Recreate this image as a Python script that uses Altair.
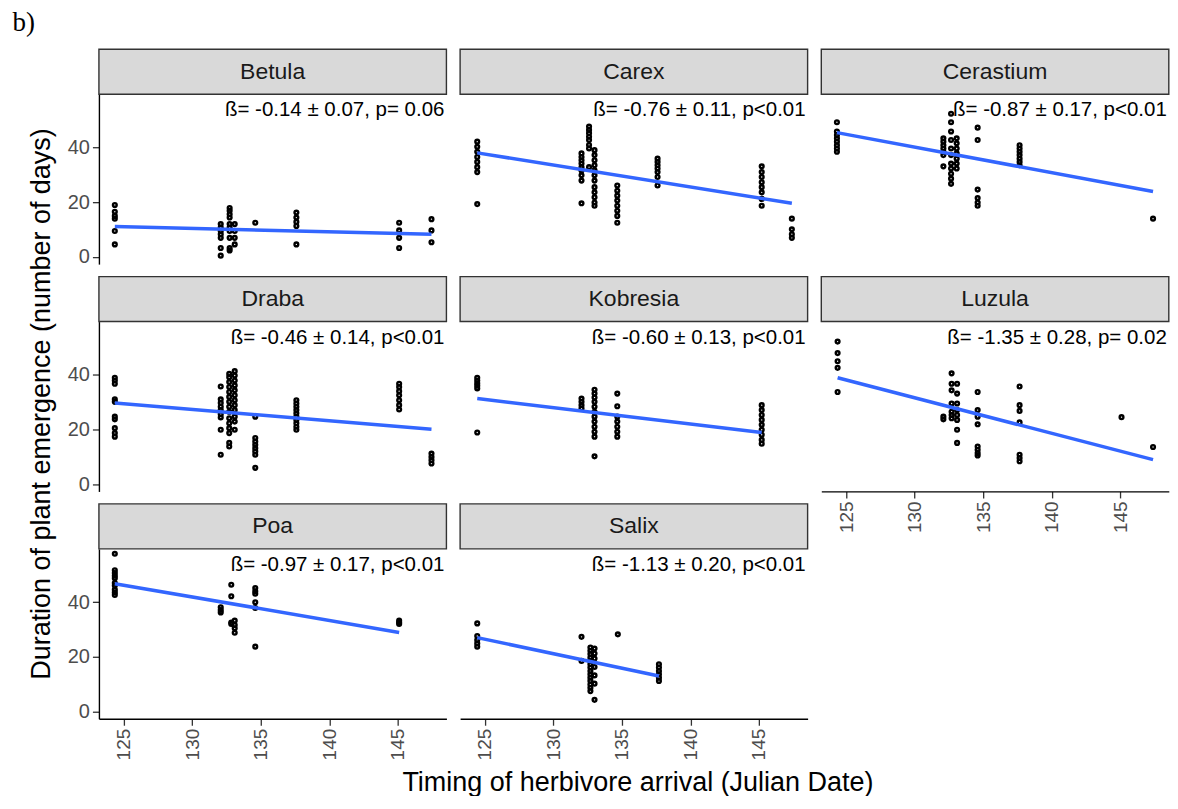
import altair as alt
import pandas as pd

species = ["Betula", "Carex", "Cerastium", "Draba", "Kobresia", "Luzula", "Poa", "Salix"]
labels = [
    "ß= -0.14 ± 0.07, p= 0.06",
    "ß= -0.76 ± 0.11, p<0.01",
    "ß= -0.87 ± 0.17, p<0.01",
    "ß= -0.46 ± 0.14, p<0.01",
    "ß= -0.60 ± 0.13, p<0.01",
    "ß= -1.35 ± 0.28, p= 0.02",
    "ß= -0.97 ± 0.17, p<0.01",
    "ß= -1.13 ± 0.20, p<0.01",
]

betula_x = [124.35, 124.35, 124.35, 124.35, 124.35, 124.35,
            132.08, 132.08, 132.08, 132.08, 132.08, 132.08, 132.08,
            132.73, 132.73, 132.73, 132.73, 132.73, 132.73, 132.73, 132.73, 132.73, 132.73,
            133.1, 133.1, 133.1, 133.1,
            134.6,
            137.6, 137.6, 137.6, 137.6, 137.6,
            145.1, 145.1, 145.1, 145.1,
            147.46, 147.46, 147.46]
betula_y = [19, 16.5, 15, 14, 9.5, 4.6,
            12, 10.7, 9.5, 8.3, 7, 3.3, 0.5,
            17.9, 16.9, 15.6, 14.4, 12, 10.7, 9.5, 7, 3.3, 2.4,
            12, 9.5, 7, 4.6,
            12.5,
            16.2, 14.4, 12.8, 11.3, 4.6,
            12.5, 9.7, 7, 3.3,
            13.8, 9.7, 5.4]

carex_x = [124.44, 124.44, 124.44, 124.44, 124.44, 124.44, 124.44, 124.44,
           132.05, 132.05, 132.05, 132.05, 132.05, 132.05, 132.05, 132.05, 132.05,
           132.6, 132.6, 132.6, 132.6, 132.6, 132.6, 132.6, 132.6,
           133.0, 133.0, 133.0, 133.0, 133.0, 133.0, 133.0, 133.0, 133.0, 133.0, 133.0, 133.0,
           134.66, 134.66, 134.66, 134.66, 134.66, 134.66, 134.66, 134.66,
           137.6, 137.6, 137.6, 137.6, 137.6, 137.6, 137.6,
           145.2, 145.2, 145.2, 145.2, 145.2, 145.2, 145.2, 145.2,
           147.4, 147.4, 147.4, 147.4]
carex_y = [42.1, 40.2, 38.4, 36.5, 34.7, 32.8, 31, 19.3,
           37.8, 36.5, 35.3, 34.1, 32.8, 31.6, 29.8, 27.9, 19.6,
           47.6, 46.4, 45.2, 43.9, 42.7, 40.9, 39.6, 32.8,
           39, 37.2, 35.3, 33.5, 31.6, 29.8, 27.9, 25.5, 23.6, 21.8, 19.9, 18.7,
           26.1, 24.2, 22.4, 20.6, 18.7, 16.9, 15, 12.5,
           35.9, 34.7, 33.5, 32.3, 31, 29.2, 26.1,
           33.1, 31, 29.2, 27.3, 25.5, 23.6, 21.2, 18.7,
           14, 10.1, 8.3, 7]

cerastium_x = [124.33, 124.33, 124.33, 124.33, 124.33, 124.33, 124.33, 124.33,
               132.1, 132.1, 132.1, 132.1, 132.1, 132.1, 132.1,
               132.66, 132.66, 132.66, 132.66, 132.66, 132.66, 132.66, 132.66, 132.66, 132.66, 132.66,
               133.07, 133.07, 133.07, 133.07, 133.07, 133.07, 133.07,
               134.6, 134.6, 134.6, 134.6, 134.6, 134.6,
               137.66, 137.66, 137.66, 137.66, 137.66, 137.66, 137.66,
               147.4]
cerastium_y = [49.2, 45.8, 44.5, 43.3, 42.1, 40.8, 39.6, 38.4,
               43.3, 42.1, 40.8, 39.6, 38.4, 37.2, 33.1,
               52.3, 49.2, 45.8, 42.7, 39.6, 37.2, 34.1, 32.3, 30.4, 28.6, 26.7,
               43.3, 41.5, 39.6, 37.8, 35.9, 34.1, 32.3,
               47.2, 42.7, 24.6, 21.5, 19.9, 18.7,
               40.8, 39.6, 38.4, 37.2, 35.9, 34.7, 33.5,
               14.0]

draba_x = [124.35, 124.35, 124.35, 124.35, 124.35, 124.35, 124.35, 124.35, 124.35, 124.35,
           132.08, 132.08, 132.08, 132.08, 132.08, 132.08, 132.08, 132.08, 132.08,
           132.7, 132.7, 132.7, 132.7, 132.7, 132.7, 132.7, 132.7, 132.7, 132.7, 132.7, 132.7, 132.7, 132.7, 132.7,
           133.1, 133.1, 133.1, 133.1, 133.1, 133.1, 133.1, 133.1, 133.1, 133.1, 133.1, 133.1,
           134.6, 134.6, 134.6, 134.6, 134.6, 134.6, 134.6, 134.6,
           137.6, 137.6, 137.6, 137.6, 137.6, 137.6, 137.6, 137.6, 137.6, 137.6,
           145.1, 145.1, 145.1, 145.1, 145.1, 145.1, 145.1,
           147.46, 147.46, 147.46, 147.46]
draba_y = [38.9, 37.9, 36.7, 31, 30.1, 24.7, 23.7, 20.5, 18.7, 17.4,
           35.7, 31, 29.7, 28.3, 27.1, 25.6, 24.4, 19.9, 10.8,
           40.3, 39.1, 37.3, 35.5, 33.7, 31.9, 30.1, 28.3, 26.5, 24.1, 22.3, 20.5, 18.7, 15.1, 13.8,
           41.3, 39.7, 37.9, 36.1, 34.3, 32.5, 30.7, 28.9, 27.1, 24.7, 22.9, 19.9,
           24.7, 16.9, 15.6, 14.4, 13.2, 12, 10.8, 6,
           30.7, 29.5, 28.3, 27.1, 25.9, 24.7, 23.5, 22.3, 21, 19.9,
           36.7, 35.5, 34, 32.5, 30.7, 28.9, 27.3,
           11.2, 10, 8.8, 7.6]

kobresia_x = [124.44, 124.44, 124.44, 124.44, 124.44, 124.44,
              132.05, 132.05, 132.05, 132.05,
              133.0, 133.0, 133.0, 133.0, 133.0, 133.0, 133.0, 133.0, 133.0, 133.0, 133.0, 133.0,
              134.66, 134.66, 134.66, 134.66, 134.66, 134.66, 134.66,
              145.2, 145.2, 145.2, 145.2, 145.2, 145.2, 145.2, 145.2, 145.2]
kobresia_y = [38.9, 37.9, 36.9, 36, 35, 18.9,
              31.3, 30.1, 28.9, 27.7,
              34.5, 33.1, 31.7, 30.1, 28.3, 26.5, 24.7, 22.9, 21, 19.2, 17.4, 10.2,
              33.1, 28.5, 24.7, 22.9, 21, 19.2, 17.4,
              28.9, 27.1, 25.3, 23.5, 21.7, 19.9, 18.1, 16.2, 14.8]

luzula_x = [124.38, 124.38, 124.38, 124.38, 124.38,
            132.1, 132.1,
            132.7, 132.7, 132.7, 132.7, 132.7, 132.7, 132.7,
            133.1, 133.1, 133.1, 133.1, 133.1, 133.1, 133.1, 133.1,
            134.6, 134.6, 134.6, 134.6, 134.6, 134.6, 134.6, 134.6,
            137.66, 137.66, 137.66, 137.66, 137.66, 137.66, 137.66,
            145.1,
            147.4]
luzula_y = [52.1, 47.9, 44.9, 42.5, 33.7,
            24.7, 23.7,
            40.5, 36.7, 34.3, 29.5, 26.5, 25.3, 24.1,
            36.7, 33.1, 29.5, 27.1, 25.3, 23.5, 19.9, 15.1,
            33.7, 27.1, 24.7, 21.9, 13.8, 12.6, 11.4, 10.5,
            35.7, 28.9, 26.8, 22.6, 10.8, 9.6, 8.4,
            24.5,
            13.6]

poa_x = [124.35, 124.35, 124.35, 124.35, 124.35, 124.35, 124.35, 124.35, 124.35, 124.35,
         132.08, 132.08, 132.08,
         132.85, 132.85, 132.85, 132.85,
         133.1, 133.1, 133.1, 133.1,
         134.6, 134.6, 134.6, 134.6, 134.6, 134.6,
         145.1, 145.1, 145.1]
poa_y = [57.6, 51.6, 50.6, 49.6, 48.7, 46.9, 46, 44.5, 43.5, 42.6,
         38.1, 37.1, 36.2,
         46.3, 42.1, 32.5, 32,
         33.2, 31.6, 30.4, 28.8,
         45.1, 43.9, 43, 39.9, 37.8, 23.7,
         33.2, 32.5, 32]

salix_x = [124.44, 124.44, 124.44, 124.44, 124.44,
           132.05, 132.05,
           132.7, 132.7, 132.7, 132.7, 132.7, 132.7, 132.7, 132.7, 132.7, 132.7, 132.7, 132.7, 132.7, 132.7,
           133.0, 133.0, 133.0, 133.0, 133.0, 133.0, 133.0,
           134.7,
           137.7, 137.7, 137.7, 137.7, 137.7, 137.7]
salix_y = [32.2, 27.6, 26.1, 24.9, 23.7,
           27.3, 18.5,
           23.4, 22.2, 21, 19.7, 18.5, 17.3, 16.1, 14.8, 13.6, 12.4, 11.2, 9.9, 8.7, 7.5,
           23, 21.2, 19.4, 16.3, 13.2, 10.2, 4.3,
           28.2,
           17.3, 16.1, 14.8, 13.6, 12.4, 11.2]

# fitted lines (start / end) per species
fit_x_start = [124.35, 124.44, 124.33, 124.35, 124.44, 124.38, 124.35, 124.44]
fit_y_start = [11.1, 38.0, 45.4, 29.7, 31.3, 38.9, 46.7, 27.0]
fit_x_end = [147.46, 147.4, 147.4, 147.46, 145.2, 147.4, 145.1, 137.7]
fit_y_end = [8.3, 19.6, 23.9, 20.1, 18.9, 9.0, 28.9, 13.0]

x_ticks = [125, 130, 135, 140, 145]
y_ticks = [0, 20, 40]

xs_all = [betula_x, carex_x, cerastium_x, draba_x, kobresia_x, luzula_x, poa_x, salix_x]
ys_all = [betula_y, carex_y, cerastium_y, draba_y, kobresia_y, luzula_y, poa_y, salix_y]

# ---------------- layout / style ----------------
W, H, SH = 347.8, 170, 45
COLGAP, ROWGAP = 13.5, 12.5
FONT = "Liberation Sans"

xscale = alt.Scale(domain=[123.19, 148.55], nice=False, zero=False)
yscale = alt.Scale(domain=[-2.6, 59.4], nice=False, zero=False)

xaxis = alt.Axis(values=x_ticks, labelAngle=270, labelFontSize=19, labelColor="#4D4D4D",
                 labelFont=FONT, tickColor="#333333", tickSize=6.5, tickWidth=1.3,
                 domainColor="black", domainWidth=1.4, grid=False, title=None,
                 labelPadding=3, format="d")
yaxis = alt.Axis(values=y_ticks, labelFontSize=20, labelColor="#4D4D4D", labelFont=FONT,
                 tickColor="#333333", tickSize=6.5, tickWidth=1.3, domainColor="black",
                 domainWidth=1.4, grid=False, title=None, labelPadding=3, format="d")

show_x = [False, False, False, False, False, True, True, True]
show_y = [True, False, False, True, False, False, True, False]


def text_chart(t, **kw):
    return alt.Chart(pd.DataFrame({"t": [t]})).mark_text(**kw)


panels = []
for i, name in enumerate(species):
    xe = alt.X("x:Q", scale=xscale, axis=xaxis if show_x[i] else None)
    ye = alt.Y("y:Q", scale=yscale, axis=yaxis if show_y[i] else None)
    one = pd.DataFrame({"name": [name], "label": [labels[i]]})
    strip = alt.Chart(one).mark_rect(fill="#D9D9D9", stroke="#333333", strokeWidth=1.4).encode(
        x=alt.value(0), x2=alt.value(W), y=alt.value(-SH), y2=alt.value(0))
    strip_text = alt.Chart(one).mark_text(fontSize=23, color="#1A1A1A", font=FONT,
                                          baseline="middle", align="center").encode(
        x=alt.value(W / 2), y=alt.value(-SH / 2), text="name:N")
    pts = alt.Chart(pd.DataFrame({"x": xs_all[i], "y": ys_all[i]})).mark_point(
        shape="circle", filled=False, color="black", size=14, strokeWidth=2.4, opacity=1
    ).encode(x=xe, y=ye)
    fit = alt.Chart(pd.DataFrame({"x": [fit_x_start[i], fit_x_end[i]],
                                  "y": [fit_y_start[i], fit_y_end[i]]})).mark_line(
        color="#3366FF", strokeWidth=3.5).encode(x=xe, y=ye)
    ann = alt.Chart(one).mark_text(align="right", baseline="alphabetic", fontSize=20.5,
                                   color="black", font=FONT).encode(
        x=alt.value(W - 2), y=alt.value(22), text="label:N")
    layers = [strip, strip_text, pts, fit, ann]
    if name == "Betula":
        layers.append(text_chart("b)", align="left", baseline="alphabetic", fontSize=27,
                                 font="Liberation Serif", color="black").encode(
            x=alt.value(-86.5), y=alt.value(-63), text="t:N"))
    if name == "Draba":
        layers.append(text_chart("Duration of plant emergence (number of days)", angle=270,
                                 align="center", baseline="middle", fontSize=27, font=FONT,
                                 color="black").encode(
            x=alt.value(-57), y=alt.value(82.5), text="t:N"))
    if name == "Salix":
        layers.append(text_chart("Timing of herbivore arrival (Julian Date)", align="center",
                                 baseline="alphabetic", fontSize=27, font=FONT,
                                 color="black").encode(
            x=alt.value(178), y=alt.value(242), text="t:N"))
    panels.append(alt.layer(*layers).properties(width=W, height=H))

chart = alt.concat(
    *panels, columns=3,
    spacing=alt.RowColnumber(row=ROWGAP + SH, column=COLGAP),
    bounds="flush",
).properties(
    padding={"left": 4, "top": 1, "right": 0, "bottom": 0}
).configure(font=FONT).configure_view(stroke=None, strokeWidth=0)

chart.save("out.html", embed_options={"renderer": "svg", "actions": False})
